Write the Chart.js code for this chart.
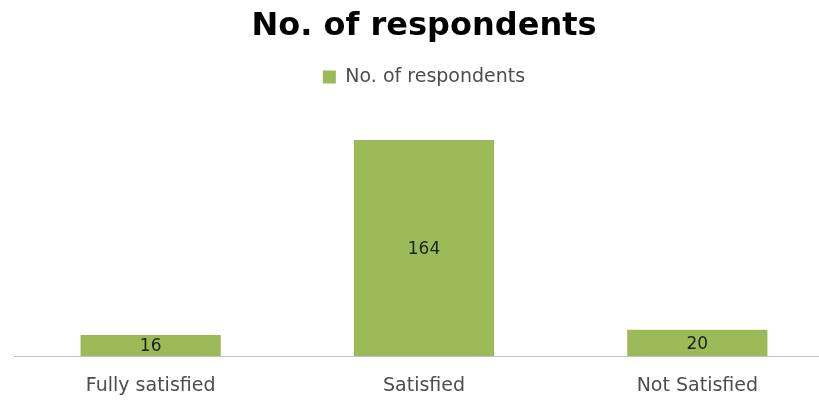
<!DOCTYPE html>
<html>
<head>
<meta charset="utf-8">
<script src="https://cdn.jsdelivr.net/npm/chart.js@4.4.0/dist/chart.umd.min.js"></script>
<style>
html,body{margin:0;padding:0;background:#fff;overflow:hidden;}
#wrap{width:834px;height:400px;position:relative;}
</style>
</head>
<body>
<div id="wrap"><canvas id="c" width="834" height="400"></canvas></div>
<script>
const categories = ["Fully satisfied", "Satisfied", "Not Satisfied"];
const seriesName = "No. of respondents";
const values = [16, 164, 20];
const chartTitle = "No. of respondents";

const FONT = "'DejaVu Sans', 'Open Sans', sans-serif";

const valueLabels = {
  id: 'valueLabels',
  afterDatasetsDraw(chart) {
    const ctx = chart.ctx;
    const meta = chart.getDatasetMeta(0);
    ctx.save();
    ctx.font = "17px " + FONT;
    ctx.fillStyle = "#1f1f1f";
    ctx.textAlign = "center";
    ctx.textBaseline = "middle";
    meta.data.forEach((bar, i) => {
      const p = bar.getProps(['x','y','base'], true);
      ctx.fillText(String(values[i]), p.x, (p.y + p.base) / 2 + 1.5);
    });
    ctx.restore();
  }
};

new Chart(document.getElementById('c'), {
  type: 'bar',
  data: {
    labels: categories,
    datasets: [{
      label: seriesName,
      data: values,
      backgroundColor: '#9bbb59',
      borderWidth: 0,
      categoryPercentage: 1,
      barPercentage: 0.513
    }]
  },
  options: {
    responsive: false,
    animation: false,
    layout: { padding: { left: 14, right: 0, top: 4, bottom: 0 } },
    plugins: {
      title: {
        display: true,
        text: chartTitle,
        color: '#000000',
        font: { family: FONT, size: 32, weight: 'bold' },
        padding: { top: 3, bottom: 12 }
      },
      legend: {
        display: true,
        position: 'top',
        labels: {
          color: '#4d4d4d',
          font: { family: FONT, size: 19 },
          boxWidth: 13,
          boxHeight: 13,
          padding: 10
        }
      },
      tooltip: { enabled: false }
    },
    scales: {
      x: {
        grid: { display: false, drawTicks: false },
        border: { display: true, color: '#bfbfbf', width: 1 },
        ticks: { color: '#4d4d4d', font: { family: FONT, size: 19 }, padding: 19 },
        afterFit(scale) { scale.height = 44; }
      },
      y: {
        display: false,
        min: 0,
        max: 197
      }
    }
  },
  plugins: [valueLabels]
});
</script>
</body>
</html>
